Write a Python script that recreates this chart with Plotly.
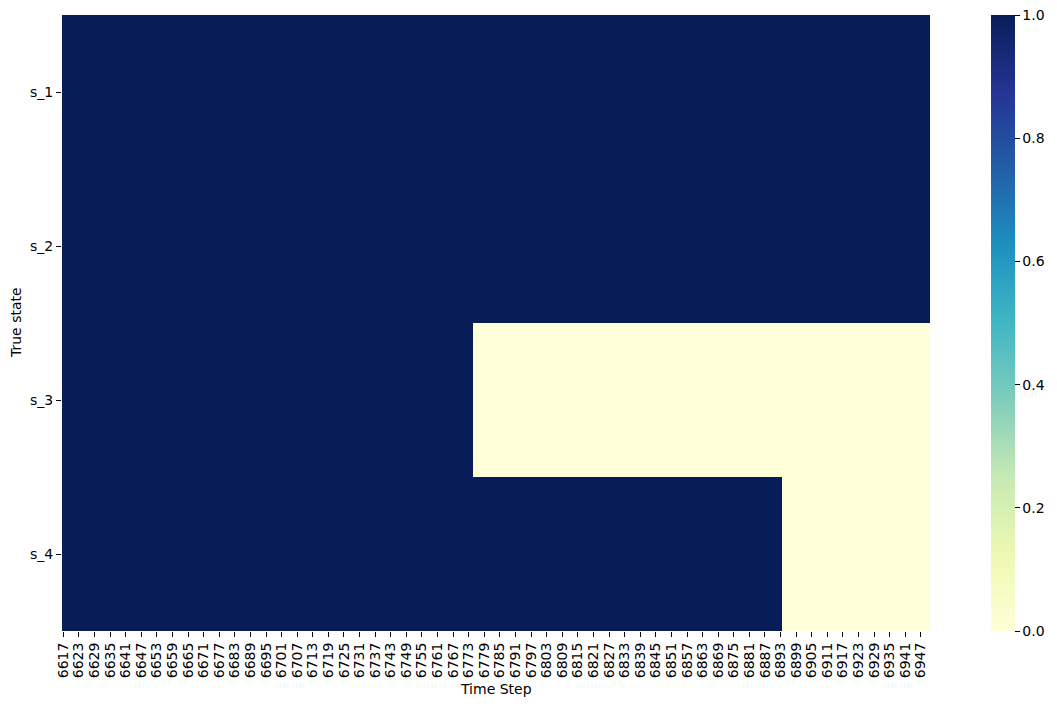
import plotly.graph_objects as go

# ---- data ----
states = ["s_1", "s_2", "s_3", "s_4"]
first_step = 6617
last_step = 6950
time_steps = list(range(first_step, last_step + 1))
tick_steps = list(range(6617, 6948, 6))

# run-length encoded values per state: (value, number of time steps)
runs_s1 = [(1, 334)]
runs_s2 = [(1, 334)]
runs_s3 = [(1, 158), (0, 176)]
runs_s4 = [(1, 277), (0, 57)]


def expand(runs):
    out = []
    for v, n in runs:
        out.extend([v] * n)
    return out


z = [expand(runs_s1), expand(runs_s2), expand(runs_s3), expand(runs_s4)]

ylgnbu = [
    [0.0, "#ffffd9"], [0.125, "#edf8b1"], [0.25, "#c7e9b4"], [0.375, "#7fcdbb"],
    [0.5, "#41b6c4"], [0.625, "#1d91c0"], [0.75, "#225ea8"], [0.875, "#253494"],
    [1.0, "#081d58"],
]

W, H = 1057, 706
left, right, top, bottom = 62, 930, 15, 631
FS = 14
font = dict(family="DejaVu Sans", size=FS, color="black")

fig = go.Figure(
    go.Heatmap(
        z=z,
        x=time_steps,
        y=states,
        colorscale=ylgnbu,
        zmin=0,
        zmax=1,
        colorbar=dict(
            x=991 / W,
            xanchor="left",
            y=1 - bottom / H,
            yanchor="bottom",
            len=(bottom - top) / H,
            lenmode="fraction",
            thickness=24,
            thicknessmode="pixels",
            outlinewidth=0,
            ticks="outside",
            ticklen=5,
            tickcolor="black",
            tickvals=[0, 0.2, 0.4, 0.6, 0.8, 1.0],
            ticktext=["0.0", "0.2", "0.4", "0.6", "0.8", "1.0"],
            tickfont=font,
            xpad=0,
            ypad=0,
        ),
        hoverongaps=False,
    )
)

fig.update_layout(
    width=W,
    height=H,
    margin=dict(l=0, r=0, t=0, b=0),
    paper_bgcolor="white",
    plot_bgcolor="white",
    font=font,
    xaxis=dict(
        domain=[left / W, right / W],
        range=[first_step - 0.5, last_step + 0.5],
        tickmode="array",
        tickvals=tick_steps,
        ticktext=[str(t) for t in tick_steps],
        tickangle=-90,
        ticks="outside",
        ticklen=5,
        tickcolor="black",
        showgrid=False,
        zeroline=False,
        showline=False,
        automargin=False,
        tickfont=font,
    ),
    yaxis=dict(
        domain=[1 - bottom / H, 1 - top / H],
        autorange="reversed",
        ticks="outside",
        ticklen=5,
        tickcolor="black",
        showgrid=False,
        zeroline=False,
        showline=False,
        automargin=False,
        tickfont=font,
    ),
    annotations=[
        dict(text="Time Step", x=(left + right) / 2 / W, y=1 - 689 / H,
             xref="paper", yref="paper", showarrow=False,
             xanchor="center", yanchor="middle", font=font),
        dict(text="True state", x=16 / W, y=1 - 323 / H,
             xref="paper", yref="paper", showarrow=False, textangle=-90,
             xanchor="center", yanchor="middle", font=font),
    ],
)

fig.write_html("out.html")
